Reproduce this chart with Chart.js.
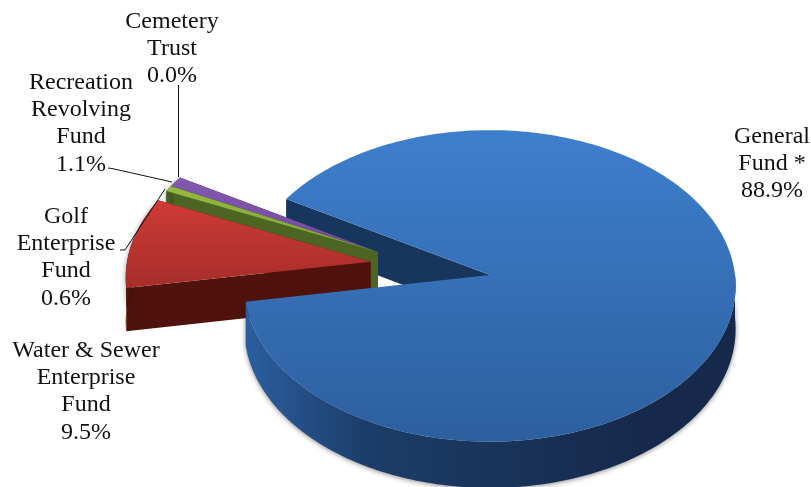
<!DOCTYPE html>
<html>
<head>
<meta charset="utf-8">
<style>
  html, body { margin: 0; padding: 0; background: #fff; }
  #wrap { position: relative; width: 811px; height: 487px; overflow: hidden; }
  #pie { position: absolute; left: 0; top: 0; }
  .lbl { position: absolute; transform: translateX(-50%); text-align: center; white-space: nowrap;
         font: 24px/27.2px "Liberation Serif", serif; color: #111; }
</style>
</head>
<body>
<div id="wrap"><canvas id="pie" width="811" height="487"></canvas></div>
<script src="https://cdn.jsdelivr.net/npm/chart.js@4"></script>
<script>
const categories = [
  ['General', 'Fund *'],
  ['Water & Sewer', 'Enterprise', 'Fund'],
  ['Golf', 'Enterprise', 'Fund'],
  ['Recreation', 'Revolving', 'Fund'],
  ['Cemetery', 'Trust']
];
const shares = [88.9, 9.5, 0.6, 1.1, 0.0];

// where each label is centred, same order as categories
const labelSpots = [[772, 122], [86, 336], [66, 202], [81, 68], [172, 7]];

// 3d look: pie plane seen at a tilt
const view = { cx: 490, cy: 275, r: 245, ry: 155, persp: 0.07, depth: 43 };
// pulled out slices: direction in degrees and distance in pie px
const pulled = [null, { dir: 190, dist: 122 }, { dir: 198, dist: 119 }, { dir: 198, dist: 119 }, null];
const sliceColors = [
  { top: ['#3e7fcd', '#2d5f9f'], side: ['#2b5e9e', '#1c3d6a', '#16294a'] },
  { top: ['#cf3b36', '#a52d2a'], side: ['#4f120d', '#4a0f0b', '#4a0f0b'] },
  { top: ['#93bb3e', '#7fa335'], side: ['#4c6522', '#435a1c', '#435a1c'] },
  { top: ['#8359b0', '#70499b'], side: ['#40305e', '#40305e', '#40305e'] },
  { top: ['#3aa0bb', '#3aa0bb'], side: ['#1e5566', '#1e5566', '#1e5566'] }
];

function project(px, py, drop) {
  const w = 1 - view.persp * py;
  return [view.cx + view.r * px / w, view.cy + view.ry * py / w + (drop ? view.depth / w : 0)];
}

function sliceOrigin(i) {
  const p = pulled[i];
  if (!p) return [0, 0];
  const a = p.dir * Math.PI / 180;
  return [Math.cos(a) * p.dist / view.r, Math.sin(a) * p.dist / view.r];
}

function arcPoints(o, a0, a1, drop) {
  const pts = [];
  const n = Math.max(2, Math.ceil((a1 - a0) / 0.02));
  for (let k = 0; k <= n; k++) {
    const a = a0 + (a1 - a0) * k / n;
    pts.push(project(o[0] + Math.cos(a), o[1] + Math.sin(a), drop));
  }
  return pts;
}

function tracePoly(ctx, pts) {
  ctx.beginPath();
  pts.forEach((p, k) => k ? ctx.lineTo(p[0], p[1]) : ctx.moveTo(p[0], p[1]));
  ctx.closePath();
}

function sideGradient(ctx, stops, x0, x1) {
  const g = ctx.createLinearGradient(x0, 0, x1, 0);
  g.addColorStop(0, stops[0]);
  g.addColorStop(0.3, stops[1]);
  g.addColorStop(1, stops[2]);
  return g;
}

function drawSlice(ctx, i, el) {
  if (el.endAngle - el.startAngle < 0.001) return;
  const o = sliceOrigin(i);
  const c = sliceColors[i];
  const apex = project(o[0], o[1], false);
  const apexLow = project(o[0], o[1], true);
  const top = arcPoints(o, el.startAngle, el.endAngle, false);

  // the big slice only shows its outer wall on the near half
  const wallFrom = i === 0 ? Math.max(el.startAngle, Math.PI * 2) : el.startAngle;
  const wallTop = arcPoints(o, wallFrom, el.endAngle, false);
  const wallLow = arcPoints(o, wallFrom, el.endAngle, true);

  // flat walls of the pulled slices
  if (i > 0) {
    const low = arcPoints(o, el.startAngle, el.endAngle, true);
    ctx.fillStyle = c.side[0];
    tracePoly(ctx, [apex, top[0], low[0], apexLow]);
    ctx.fill();
    tracePoly(ctx, [apex, top[top.length - 1], low[low.length - 1], apexLow]);
    ctx.fill();
  }

  // outer wall with a soft shadow
  ctx.save();
  ctx.shadowColor = 'rgba(0,0,0,0.45)';
  ctx.shadowBlur = 5;
  ctx.shadowOffsetY = 1;
  ctx.fillStyle = sideGradient(ctx, c.side, i === 0 ? 248 : 120, i === 0 ? 640 : 380);
  tracePoly(ctx, wallTop.concat(wallLow.slice().reverse()));
  ctx.fill();
  ctx.restore();

  // top face
  const ys = top.map(p => p[1]).concat(apex[1]);
  const g = ctx.createLinearGradient(0, Math.min.apply(null, ys), 0, Math.max.apply(null, ys));
  g.addColorStop(0, c.top[0]);
  g.addColorStop(1, c.top[1]);
  ctx.fillStyle = g;
  tracePoly(ctx, [apex].concat(top));
  ctx.fill();
}

function drawLeader(ctx, pts) {
  ctx.beginPath();
  pts.forEach((p, k) => k ? ctx.lineTo(p[0], p[1]) : ctx.moveTo(p[0], p[1]));
  ctx.strokeStyle = '#111';
  ctx.lineWidth = 1;
  ctx.stroke();
}

const tiltedPie = {
  id: 'tiltedPie',
  beforeDatasetDraw(chart) {
    const ctx = chart.ctx;
    const arcs = chart.getDatasetMeta(0).data;
    // back wall of the big slice goes first, it sits behind the pulled ones
    const big = arcs[0];
    const a = project(0, 0, false), aLow = project(0, 0, true);
    const b = project(Math.cos(big.startAngle), Math.sin(big.startAngle), false);
    const bLow = project(Math.cos(big.startAngle), Math.sin(big.startAngle), true);
    ctx.fillStyle = '#17365d';
    tracePoly(ctx, [a, b, bLow, aLow]);
    ctx.fill();
    // back to front
    [4, 3, 2, 1, 0].forEach(i => drawSlice(ctx, i, arcs[i]));
    return false;
  },
  afterDraw(chart) {
    const ctx = chart.ctx;
    drawLeader(ctx, [[178.5, 85], [178.5, 177]]);
    drawLeader(ctx, [[108, 168], [112, 168.5], [172, 182]]);
    drawLeader(ctx, [[120, 250], [125, 250], [165, 189]]);
  }
};

new Chart(document.getElementById('pie'), {
  type: 'pie',
  data: {
    labels: categories.map(c => c.join(' ')),
    datasets: [{ data: shares, backgroundColor: sliceColors.map(c => c.top[0]), borderWidth: 0 }]
  },
  options: {
    responsive: false,
    animation: false,
    rotation: 300.5,
    plugins: { legend: { display: false }, tooltip: { enabled: false } }
  },
  plugins: [tiltedPie]
});

const wrap = document.getElementById('wrap');
categories.forEach((lines, i) => {
  const d = document.createElement('div');
  d.className = 'lbl';
  d.style.left = labelSpots[i][0] + 'px';
  d.style.top = labelSpots[i][1] + 'px';
  d.innerHTML = lines.concat(shares[i].toFixed(1) + '%')
    .map(t => t.replace('&', '&amp;')).join('<br>');
  wrap.appendChild(d);
});
</script>
</body>
</html>
